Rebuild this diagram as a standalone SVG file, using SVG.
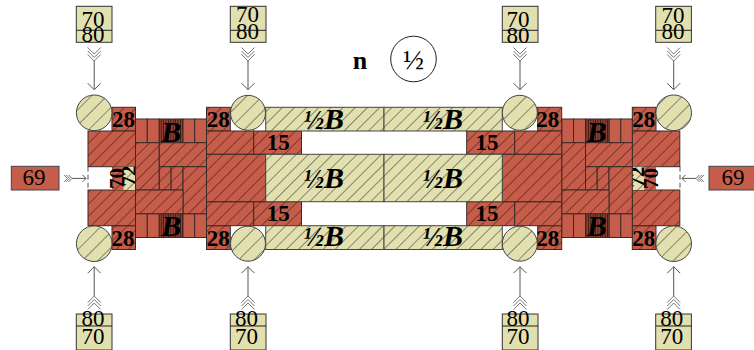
<svg xmlns="http://www.w3.org/2000/svg" width="754" height="350" viewBox="0 0 754 350">
<style>
.r{fill:#c65d4a;stroke:#3a2a26;stroke-width:1}
.rh{fill:url(#hr);stroke:#3a2a26;stroke-width:1}
.yh{fill:url(#hy);stroke:#444;stroke-width:1}
.sb{fill:url(#st);stroke:#3a2a26;stroke-width:1}
.c{fill:url(#hc);stroke:#444;stroke-width:1}
.by{fill:#e2e0af;stroke:#333;stroke-width:1}
.br{fill:#c65d4a;stroke:#444;stroke-width:1}
.t{font-family:"Liberation Serif",serif;text-anchor:middle;fill:#000}
.n{font-size:23px}
.b{font-weight:bold}
.b28{font-weight:bold;font-size:23px}
.b15{font-weight:bold;font-size:23px}
.B{font-weight:bold;font-style:italic;font-size:30px}
.h{font-weight:bold;font-style:italic;font-size:27px}
.a{fill:none;stroke:#555;stroke-width:1}
.d{fill:none;stroke:#555;stroke-width:1;stroke-dasharray:5 3}
</style>
<defs>
<pattern id="hr" width="8.6" height="8.6" patternUnits="userSpaceOnUse" patternTransform="rotate(45)"><rect width="8.6" height="8.6" fill="#c65d4a"/><path d="M0 0V8.6" stroke="#3f1a12" stroke-width="1.1"/></pattern>
<pattern id="hy" width="8.6" height="8.6" patternUnits="userSpaceOnUse" patternTransform="rotate(45)"><rect width="8.6" height="8.6" fill="#e2e0af"/><path d="M0 0V8.6" stroke="#3d3d34" stroke-width="1.1"/></pattern>
<pattern id="hc" width="11" height="11" patternUnits="userSpaceOnUse" patternTransform="rotate(45)"><rect width="11" height="11" fill="#e2e0af"/><path d="M0 0V11" stroke="#3d3d34" stroke-width="1.1"/></pattern>
<pattern id="st" width="2.4" height="10" patternUnits="userSpaceOnUse"><rect width="2.4" height="10" fill="#8f3f31"/><path d="M0 0V10" stroke="#1a0c08" stroke-width="1.2"/></pattern>
<marker id="head" markerUnits="userSpaceOnUse" markerWidth="10" markerHeight="16" refX="8" refY="8" orient="auto"><path d="M1.5 1.5L8 8L1.5 14.5" fill="none" stroke="#555"/></marker>
<marker id="tail" markerUnits="userSpaceOnUse" markerWidth="18" markerHeight="16" refX="16" refY="8" orient="auto"><path d="M2.5 1.5L9 8L2.5 14.5M6 1.5L12.5 8L6 14.5M9.5 1.5L16 8L9.5 14.5" fill="none" stroke="#777"/></marker>
<marker id="heads" markerUnits="userSpaceOnUse" markerWidth="8" markerHeight="10" refX="6" refY="5" orient="auto"><path d="M2.5 1.5L6 5L2.5 8.5" fill="none" stroke="#555"/></marker>
<marker id="tails" markerUnits="userSpaceOnUse" markerWidth="12" markerHeight="10" refX="10" refY="5" orient="auto"><path d="M2 1.5L5.5 5L2 8.5M4.2 1.5L7.7 5L4.2 8.5M6.5 1.5L10 5L6.5 8.5" fill="none" stroke="#777"/></marker>
</defs>

<g id="connectors">
<path class="a" d="M94.2 61V89.7" marker-start="url(#tail)" marker-end="url(#head)"/>
<path class="a" d="M248 61V89.7" marker-start="url(#tail)" marker-end="url(#head)"/>
<path class="a" d="M520 61V89.7" marker-start="url(#tail)" marker-end="url(#head)"/>
<path class="a" d="M673.7 61V89.7" marker-start="url(#tail)" marker-end="url(#head)"/>
<path class="a" d="M94.2 296V266.7" marker-start="url(#tail)" marker-end="url(#head)"/>
<path class="a" d="M248 296V266.7" marker-start="url(#tail)" marker-end="url(#head)"/>
<path class="a" d="M520 296V266.7" marker-start="url(#tail)" marker-end="url(#head)"/>
<path class="a" d="M673.7 296V266.7" marker-start="url(#tail)" marker-end="url(#head)"/>
<path class="a" d="M72 178.4H86" marker-start="url(#tails)" marker-end="url(#heads)"/>
<path class="a" d="M696 178.4H682" marker-start="url(#tails)" marker-end="url(#heads)"/>
</g>

<g id="legend"><text class="t b" x="360" y="69" font-size="26">n</text><circle cx="413.5" cy="59" r="22.8" fill="#fff" stroke="#222"/><text class="t" x="413.5" y="69" font-size="28">½</text></g>

<g id="in-t1"><rect class="by" x="76.3" y="6.3" width="35.7" height="36"/><path d="M76.3 30.3H112" stroke="#222"/><text class="t n" x="93" y="27.3">70</text><text class="t n" x="93" y="42.3">80</text></g>
<g id="in-t2"><rect class="by" x="230.3" y="6.3" width="35.7" height="36"/><path d="M230.3 30.3H266" stroke="#222"/><text class="t n" x="247.5" y="21.7">70</text><text class="t n" x="247.5" y="39">80</text></g>
<g id="in-t3"><rect class="by" x="502.3" y="6.3" width="35.7" height="36"/><path d="M502.3 30.3H538" stroke="#222"/><text class="t n" x="518" y="27">70</text><text class="t n" x="518" y="42.5">80</text></g>
<g id="in-t4"><rect class="by" x="655.7" y="6.3" width="35.7" height="36"/><path d="M655.7 30.3H691.4" stroke="#222"/><text class="t n" x="673" y="23">70</text><text class="t n" x="673" y="39">80</text></g>
<g id="in-b1"><rect class="by" x="76.3" y="314" width="35.7" height="36"/><path d="M76.3 326H112" stroke="#222"/><text class="t n" x="93" y="326">80</text><text class="t n" x="93" y="344">70</text></g>
<g id="in-b2"><rect class="by" x="230.3" y="314" width="35.7" height="36"/><path d="M230.3 326H266" stroke="#222"/><text class="t n" x="246.5" y="326">80</text><text class="t n" x="246.5" y="344">70</text></g>
<g id="in-b3"><rect class="by" x="502.3" y="314" width="35.7" height="36"/><path d="M502.3 326H538" stroke="#222"/><text class="t n" x="518" y="326">80</text><text class="t n" x="518" y="344">70</text></g>
<g id="in-b4"><rect class="by" x="655.7" y="314" width="35.7" height="36"/><path d="M655.7 326H691.4" stroke="#222"/><text class="t n" x="671.7" y="326">80</text><text class="t n" x="671.7" y="344">70</text></g>

<g id="side-l"><rect class="br" x="11.3" y="166.3" width="47.7" height="23.7"/><text class="t n" x="34" y="184.5">69</text></g>
<g id="side-r"><rect class="br" x="709" y="166.3" width="47.7" height="23.7"/><text class="t n" x="733" y="184.5">69</text></g>

<g id="end-left">
<rect class="rh" x="112" y="107.3" width="23.5" height="23.7"/><rect class="rh" x="112" y="225.7" width="23.5" height="23.8"/>
<rect class="rh" x="88" y="131" width="47.5" height="35.7"/><rect class="rh" x="88" y="190" width="47.5" height="35.7"/>
<rect x="112" y="166.7" width="11.7" height="23.3" fill="url(#hr)"/><rect x="123.7" y="166.7" width="11.8" height="23.3" fill="url(#hy)"/>
<path class="d" d="M88 166.7V190"/>
<text class="t b28" x="123.5" y="127">28</text><text class="t b28" x="123" y="245.7">28</text>
<text class="t b" font-size="21" transform="translate(124 178.5) rotate(-90)">70</text><text class="t b" font-size="21" transform="translate(136 176) rotate(-90)">72</text>
</g>
<g id="end-right">
<rect class="rh" x="632.3" y="107.3" width="23.7" height="23.7"/><rect class="rh" x="632.3" y="225.7" width="23.7" height="23.8"/>
<rect class="rh" x="632.3" y="131" width="47.5" height="35.7"/><rect class="rh" x="632.3" y="190" width="47.5" height="35.7"/>
<rect x="632.3" y="166.7" width="12" height="23.3" fill="url(#hy)"/><rect x="644.3" y="166.7" width="11.7" height="23.3" fill="url(#hr)"/>
<path class="d" d="M680 166.7V190"/>
<text class="t b28" x="643.8" y="127">28</text><text class="t b28" x="643.8" y="245.7">28</text>
<text class="t b" font-size="21" transform="translate(644 177) rotate(-90)">72</text><text class="t b" font-size="21" transform="translate(657.5 178.5) rotate(-90)">70</text>
</g>

<g id="block-left">
<rect class="r" x="135.5" y="119" width="11.8" height="23.7"/><rect class="r" x="147.3" y="119" width="12" height="23.7"/><rect class="sb" x="159.3" y="119" width="23.7" height="23.7"/><rect class="r" x="183" y="119" width="11.7" height="23.7"/><rect class="r" x="194.7" y="119" width="11.8" height="23.7"/>
<rect class="r" x="135.5" y="213.7" width="11.8" height="23.8"/><rect class="r" x="147.3" y="213.7" width="12" height="23.8"/><rect class="sb" x="159.3" y="213.7" width="23.7" height="23.8"/><rect class="r" x="183" y="213.7" width="11.7" height="23.8"/><rect class="r" x="194.7" y="213.7" width="11.8" height="23.8"/>
<rect class="rh" x="135.5" y="142.7" width="23.8" height="47.3"/><rect class="rh" x="159.3" y="142.7" width="47.2" height="24"/>
<rect class="rh" x="159.3" y="166.7" width="11.8" height="23.3"/><rect class="rh" x="171.1" y="166.7" width="11.9" height="23.3"/>
<rect class="rh" x="183" y="166.7" width="23.5" height="47"/><rect class="rh" x="135.5" y="190" width="47.5" height="23.7"/>
<text class="t B" x="171.2" y="141.7">B</text><text class="t B" x="171.2" y="235.7">B</text>
</g>
<g id="block-right">
<rect class="r" x="561.7" y="119" width="11.8" height="23.7"/><rect class="r" x="573.5" y="119" width="12" height="23.7"/><rect class="sb" x="585.5" y="119" width="23.7" height="23.7"/><rect class="r" x="609.2" y="119" width="11.6" height="23.7"/><rect class="r" x="620.8" y="119" width="11.5" height="23.7"/>
<rect class="r" x="561.7" y="213.7" width="11.8" height="23.8"/><rect class="r" x="573.5" y="213.7" width="12" height="23.8"/><rect class="sb" x="585.5" y="213.7" width="23.7" height="23.8"/><rect class="r" x="609.2" y="213.7" width="11.6" height="23.8"/><rect class="r" x="620.8" y="213.7" width="11.5" height="23.8"/>
<rect class="rh" x="561.7" y="142.7" width="23.8" height="47.3"/><rect class="rh" x="585.5" y="142.7" width="46.8" height="24"/>
<rect class="rh" x="585.5" y="166.7" width="11.7" height="23.3"/><rect class="rh" x="597.2" y="166.7" width="11.8" height="23.3"/>
<rect class="rh" x="609" y="166.7" width="23.3" height="47"/><rect class="rh" x="561.7" y="190" width="47.3" height="23.7"/>
<text class="t B" x="596.8" y="141.7">B</text><text class="t B" x="596.8" y="235.7">B</text>
</g>

<g id="frame">
<rect class="rh" x="206.5" y="107.3" width="23.8" height="23.7"/><rect class="rh" x="206.5" y="225.7" width="23.8" height="23.8"/>
<rect class="rh" x="537.7" y="107.3" width="24" height="23.7"/><rect class="rh" x="537.7" y="225.7" width="24" height="23.8"/>
<rect class="rh" x="206.5" y="131" width="47.2" height="23.3"/><rect class="rh" x="253.7" y="131" width="47.8" height="23.3"/>
<rect class="rh" x="206.5" y="201.7" width="47.2" height="24"/><rect class="rh" x="253.7" y="201.7" width="47.8" height="24"/>
<rect class="rh" x="466.7" y="131" width="48" height="23.3"/><rect class="rh" x="514.7" y="131" width="47" height="23.3"/>
<rect class="rh" x="466.7" y="201.7" width="48" height="24"/><rect class="rh" x="514.7" y="201.7" width="47" height="24"/>
<rect class="rh" x="206.5" y="154.3" width="59.2" height="47.4"/><rect class="rh" x="502.3" y="154.3" width="59.4" height="47.4"/>
<text class="t b28" x="218.2" y="127">28</text><text class="t b28" x="218.2" y="245.7">28</text><text class="t b28" x="547.7" y="127">28</text><text class="t b28" x="547.7" y="245.7">28</text>
<text class="t b15" x="278.3" y="150">15</text><text class="t b15" x="278.3" y="220.7">15</text><text class="t b15" x="487" y="150">15</text><text class="t b15" x="487" y="220.7">15</text>
</g>
<g id="bars">
<rect class="yh" x="265.7" y="107.3" width="118.3" height="23.7"/><rect class="yh" x="384" y="107.3" width="118.3" height="23.7"/>
<rect class="yh" x="265.7" y="154.3" width="118.3" height="47.4"/><rect class="yh" x="384" y="154.3" width="118.3" height="47.4"/>
<rect class="yh" x="265.7" y="225.7" width="118.3" height="23.8"/><rect class="yh" x="384" y="225.7" width="118.3" height="23.8"/>
<text class="t" x="324" y="129"><tspan class="h">½</tspan><tspan class="B">B</tspan></text><text class="t" x="443" y="129"><tspan class="h">½</tspan><tspan class="B">B</tspan></text>
<text class="t" x="324" y="188"><tspan class="h">½</tspan><tspan class="B">B</tspan></text><text class="t" x="443" y="188"><tspan class="h">½</tspan><tspan class="B">B</tspan></text>
<text class="t" x="324" y="245.7"><tspan class="h">½</tspan><tspan class="B">B</tspan></text><text class="t" x="443" y="245.7"><tspan class="h">½</tspan><tspan class="B">B</tspan></text>
</g>
<g id="pins">
<circle class="c" cx="94.2" cy="112.8" r="17.8"/><circle class="c" cx="248" cy="112.8" r="17.5"/><circle class="c" cx="519.8" cy="112.8" r="17.5"/><circle class="c" cx="673.7" cy="112.8" r="17.8"/>
<circle class="c" cx="94.2" cy="243.7" r="17.8"/><circle class="c" cx="248" cy="243.7" r="17.5"/><circle class="c" cx="519.8" cy="243.7" r="17.5"/><circle class="c" cx="673.7" cy="243.7" r="17.8"/>
</g>
</svg>
